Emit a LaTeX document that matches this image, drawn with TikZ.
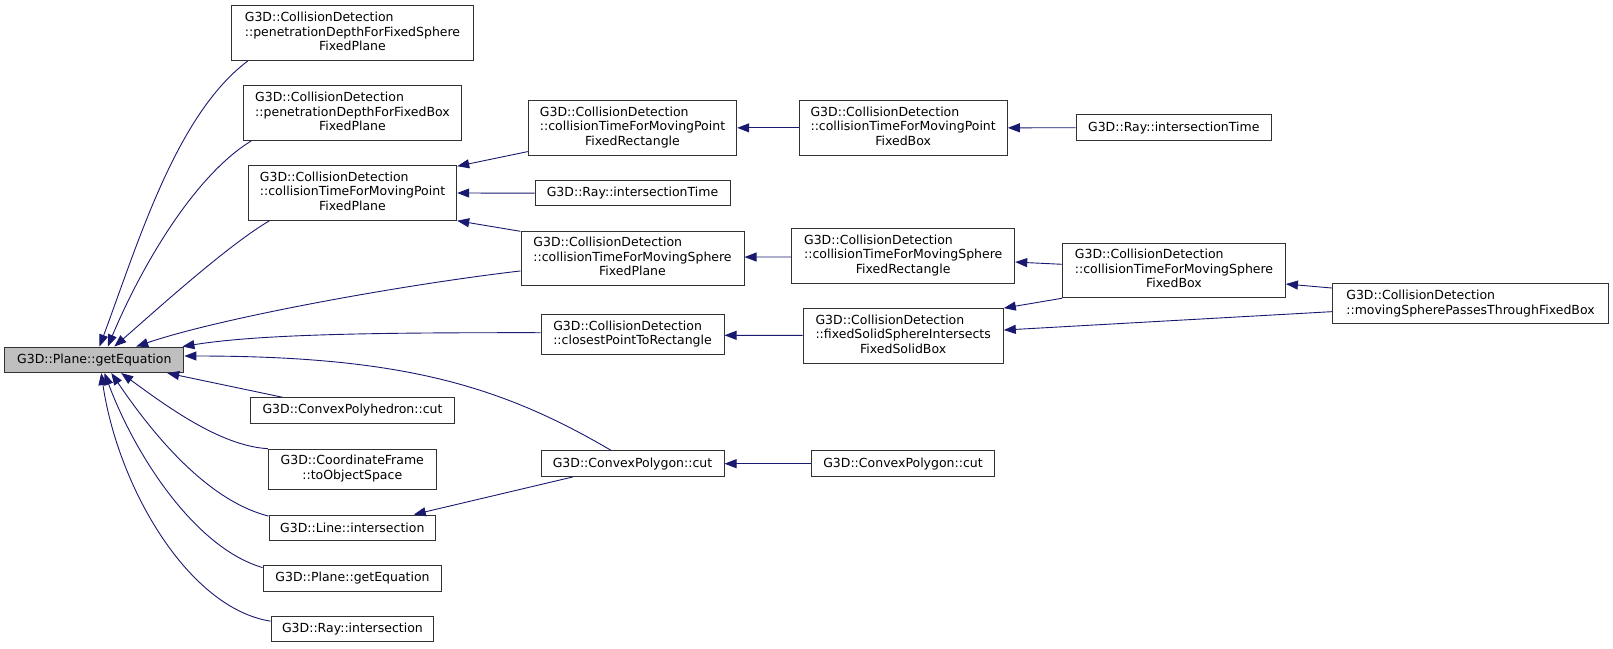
\documentclass[tikz,border=0pt]{standalone}
\usepackage{fontspec}
\setmainfont{DejaVu Sans}
\usetikzlibrary{arrows.meta}
\definecolor{edgecol}{RGB}{25,25,112}
\definecolor{rootfill}{RGB}{191,191,191}
\definecolor{boxline}{RGB}{50,50,50}
\newcommand{\twoL}[2]{\begin{tabular}{@{}l@{}}#1\\#2\end{tabular}}
\newcommand{\twoC}[2]{\begin{tabular}{@{}c@{}}#1\\#2\end{tabular}}
\newcommand{\threeL}[3]{\begin{tabular}{@{}l@{}}#1\\#2\\\multicolumn{1}{@{}c@{}}{#3}\end{tabular}}
\begin{document}
\begin{tikzpicture}[x=1pt,y=-1pt,
  font=\fontsize{12.5}{14.5}\selectfont,
  box/.style={draw=boxline, line width=1pt, fill=white, inner sep=0pt, minimum height=25.5pt, align=center},
  htwo/.style={minimum height=40pt},
  hthree/.style={minimum height=54.5pt},
  conn/.style={draw=edgecol, line width=0.9pt, -{Triangle[length=12pt,width=9pt]}}]
\useasboundingbox (0,0) rectangle (1613,648);

% nodes
\node[box, minimum width=179.1pt, fill=rootfill] (root) at (94.35,359.8) {G3D::Plane::getEquation};
\node[box, hthree, minimum width=241.4pt] (penS) at (352.5,33.2) {\threeL{G3D::CollisionDetection}{::penetrationDepthForFixedSphere}{FixedPlane}};
\node[box, hthree, minimum width=218.7pt] (penB) at (352.5,113.15) {\threeL{G3D::CollisionDetection}{::penetrationDepthForFixedBox}{FixedPlane}};
\node[box, hthree, minimum width=208.4pt] (ctPP) at (352.5,193) {\threeL{G3D::CollisionDetection}{::collisionTimeForMovingPoint}{FixedPlane}};
\node[box, minimum width=204.2pt] (cph) at (352.5,410.5) {G3D::ConvexPolyhedron::cut};
\node[box, htwo, minimum width=168pt] (cf) at (352.3,469.15) {\twoC{G3D::CoordinateFrame}{::toObjectSpace}};
\node[box, minimum width=166.6pt] (li) at (352.3,527.8) {G3D::Line::intersection};
\node[box, minimum width=178.8pt] (pge) at (352.5,578.5) {G3D::Plane::getEquation};
\node[box, minimum width=162.9pt] (ri) at (352.45,629) {G3D::Ray::intersection};

\node[box, hthree, minimum width=208.4pt] (ctPR) at (632.5,127.85) {\threeL{G3D::CollisionDetection}{::collisionTimeForMovingPoint}{FixedRectangle}};
\node[box, minimum width=195pt] (rITm) at (632.5,193.15) {G3D::Ray::intersectionTime};
\node[box, hthree, minimum width=223pt] (ctSPl) at (632.5,258.35) {\threeL{G3D::CollisionDetection}{::collisionTimeForMovingSphere}{FixedPlane}};
\node[box, htwo, minimum width=183pt] (cpr) at (632.5,334.5) {\twoL{G3D::CollisionDetection}{::closestPointToRectangle}};
\node[box, minimum width=183pt] (cpcA) at (632.5,463.7) {G3D::ConvexPolygon::cut};

\node[box, hthree, minimum width=208.3pt] (ctPB) at (903.15,127.85) {\threeL{G3D::CollisionDetection}{::collisionTimeForMovingPoint}{FixedBox}};
\node[box, hthree, minimum width=223pt] (ctSR) at (903.2,255.85) {\threeL{G3D::CollisionDetection}{::collisionTimeForMovingSphere}{FixedRectangle}};
\node[box, hthree, minimum width=200.3pt] (fss) at (903.15,335.85) {\threeL{G3D::CollisionDetection}{::fixedSolidSphereIntersects}{FixedSolidBox}};
\node[box, minimum width=182.6pt] (cpcB) at (903,463.7) {G3D::ConvexPolygon::cut};

\node[box, minimum width=195.1pt] (rITr) at (1173.75,127.7) {G3D::Ray::intersectionTime};
\node[box, hthree, minimum width=222.8pt] (ctSB) at (1174,270.5) {\threeL{G3D::CollisionDetection}{::collisionTimeForMovingSphere}{FixedBox}};
\node[box, htwo, minimum width=275.6pt] (mov) at (1470.5,303.85) {\twoL{G3D::CollisionDetection}{::movingSpherePassesThroughFixedBox}};

% connectors into root
\draw[conn] ([xshift=16.5pt]penS.south west) .. controls (176.3,114.7) and (138.5,241.6) .. ([xshift=95.2pt]root.north west);
\draw[conn] ([xshift=8.6pt]penB.south west) .. controls (192.2,177.1) and (139.2,271.4) .. ([xshift=103.5pt]root.north west);
\draw[conn] ([xshift=21.7pt]ctPP.south west) .. controls (226.8,245.7) and (152,313.9) .. ([xshift=110pt]root.north west);
\draw[conn] ([yshift=-12.6pt]ctSPl.west) .. controls (400,285) and (220,318) .. ([xshift=131.9pt]root.north west);
\draw[conn] ([yshift=1.8pt]cpr.west) .. controls (380,332.5) and (260,334) .. ([xshift=-2pt]root.north east);
\draw[conn] ([xshift=70.7pt]cpcA.north west) .. controls (500,385) and (400,356) .. ([yshift=3.8pt]root.east);
\draw[conn] ([xshift=32.6pt]cph.north west) -- ([xshift=-17.2pt]root.south east);
\draw[conn] (cf.north west) .. controls (220,446) and (165,405) .. ([xshift=116.9pt]root.south west);
\draw[conn] ([yshift=-1.5pt]li.north west) .. controls (205,500) and (150,430) .. ([xshift=107pt]root.south west);
\draw[conn] ([yshift=-2.3pt]pge.north west) .. controls (195,548) and (135,455) .. ([xshift=100.2pt]root.south west);
\draw[conn] ([yshift=-5.4pt]ri.north west) .. controls (188,608) and (118,487) .. ([xshift=96.9pt]root.south west);

% other connectors
\draw[conn] ([yshift=4pt]ctPR.south west) -- ([yshift=-1pt]ctPP.north east);
\draw[conn] (rITm.west) -- (ctPP.east);
\draw[conn] ([yshift=-0.7pt]ctSPl.north west) -- (ctPP.south east);
\draw[conn] (ctPB.west) -- (ctPR.east);
\draw[conn] (rITr.west) -- (ctPB.east);
\draw[conn] ([yshift=-1.1pt]ctSR.west) -- ([yshift=1.3pt]ctSPl.east);
\draw[conn] ([yshift=6.2pt]ctSB.west) -- ([yshift=-6.2pt]ctSR.east);
\draw[conn] ([yshift=15.8pt]mov.west) -- ([yshift=-13.5pt]ctSB.east);
\draw[conn] ([yshift=0.5pt]fss.west) -- ([yshift=-0.8pt]cpr.east);
\draw[conn] (ctSB.south west) -- (fss.north east);
\draw[conn] ([yshift=-7.8pt]mov.west) -- ([yshift=5.8pt]fss.east);
\draw[conn] (cpcB.west) -- (cpcA.east);
\draw[conn] ([xshift=32.3pt]cpcA.south west) -- ([xshift=-22.3pt]li.north east);
\end{tikzpicture}
\end{document}
